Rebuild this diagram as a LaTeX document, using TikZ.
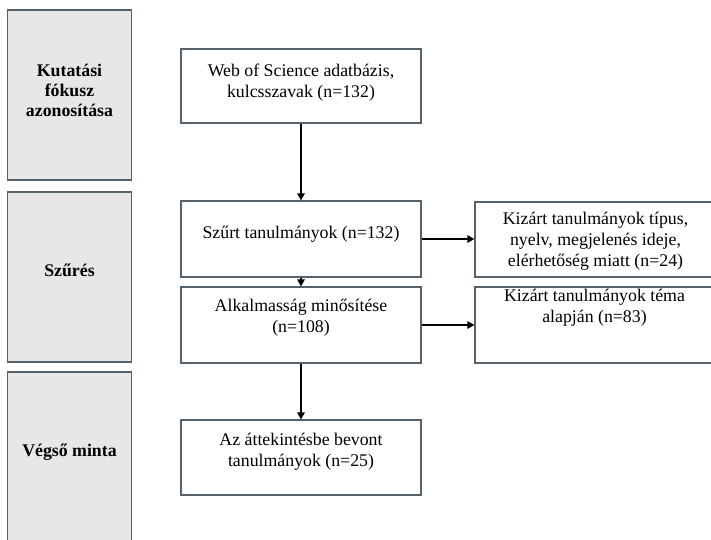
\documentclass[tikz,border=0pt]{standalone}
\usepackage{fontspec}
\setmainfont{Liberation Serif}
\usetikzlibrary{arrows.meta}
\definecolor{boxline}{RGB}{84,98,110}
\definecolor{stagefill}{RGB}{231,231,231}

\begin{document}
\begin{tikzpicture}[x=1pt, y=-1pt,
	stage/.style={draw=boxline, fill=stagefill, line width=1.2pt, minimum width=124pt, inner sep=0pt},
	stepbox/.style={draw=boxline, fill=white, line width=1.2pt, inner sep=0pt},
	txt/.style={font=\fontsize{17.8}{21}\selectfont, align=center, inner sep=0pt},
	stagetxt/.style={font=\fontsize{17.8}{20}\selectfont\bfseries, align=center, inner sep=0pt},
	flow/.style={line width=1.4pt, -{Triangle[length=7pt,width=7.5pt]}}]
			%%%%% START %%%%%
			
			\useasboundingbox (0,0) rectangle (711,539);
			\clip (0,0) rectangle (711,539);
			
			% stages on the left
			\node[stage, minimum height=170pt] (fokusz) at (69.5, 95) {};
			\node[stage, minimum height=170pt] (szures) at (69.5, 277) {};
			\node[stage, minimum height=173pt] (minta) at (69.5, 458.5) {};
			\node[stagetxt] (fokusz-t) at (69.5, 90) {Kutatási\\fókusz\\azonosítása};
			\node[stagetxt] (szures-t) at (69.5, 270) {Szűrés};
			\node[stagetxt] (minta-t) at (69.5, 452) {Végső minta};
			
			% main flow
			\node[stepbox, minimum width=240pt, minimum height=74pt] (wos) at (301, 86) {};
			\node[stepbox, minimum width=240pt, minimum height=76pt] (szurt) at (301, 239) {};
			\node[stepbox, minimum width=240pt, minimum height=76pt] (alkalmas) at (301, 325) {};
			\node[stepbox, minimum width=240pt, minimum height=75pt] (bevont) at (301, 457.5) {};
			\node[txt] (wos-t) at (301, 83) {Web of Science adatbázis,\\kulcsszavak (n=132)};
			\node[txt] (szurt-t) at (301, 234) {Szűrt tanulmányok (n=132)};
			\node[txt] (alkalmas-t) at (301, 318) {Alkalmasság minősítése\\(n=108)};
			\node[txt] (bevont-t) at (301, 452) {Az áttekintésbe bevont\\tanulmányok (n=25)};
			
			% excluded
			\node[stepbox, minimum width=250pt, minimum height=75pt] (kizart1) at (600, 239.5) {};
			\node[stepbox, minimum width=250pt, minimum height=76pt] (kizart2) at (600, 325) {};
			\node[txt] (kizart1-t) at (595.5, 241) {Kizárt tanulmányok típus,\\nyelv, megjelenés ideje,\\elérhetőség miatt (n=24)};
			\node[txt] (kizart2-t) at (594.5, 308) {Kizárt tanulmányok téma\\alapján (n=83)};
			
			\draw[flow] (wos.south) -- (szurt.north);
			\draw[flow] (szurt.south) -- (alkalmas.north);
			\draw[flow] (alkalmas.south) -- (bevont.north);
			\draw[flow] (szurt.east) -- (szurt.east -| kizart1.west);
			\draw[flow] (alkalmas.east) -- (alkalmas.east -| kizart2.west);
			
			%%%%% END %%%%%
\end{tikzpicture}
\end{document}
